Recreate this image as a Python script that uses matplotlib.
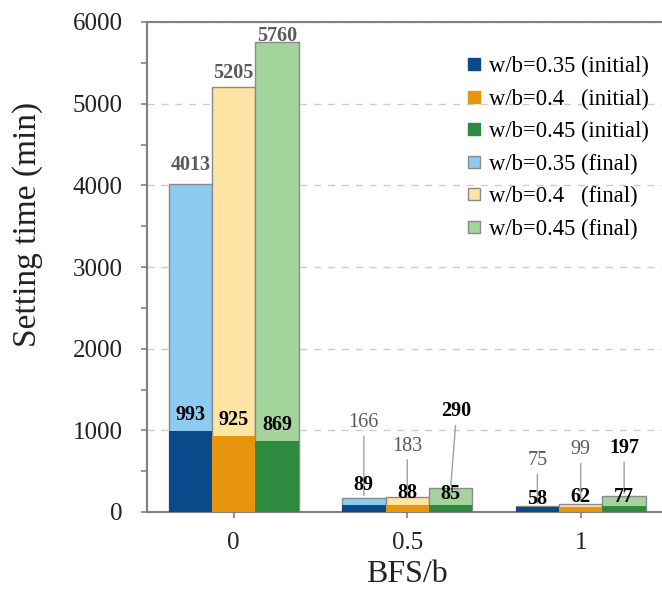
import matplotlib
matplotlib.use("Agg")
import matplotlib.pyplot as plt
from matplotlib.lines import Line2D
from matplotlib.ticker import MultipleLocator
import numpy as np

# ---------------- Data ----------------
bfs_labels = ["0", "0.5", "1"]
series_wb = ["0.35", "0.4", "0.45"]
initial_time = [[993, 89, 58],     # w/b=0.35
                [925, 88, 62],     # w/b=0.4
                [869, 85, 77]]     # w/b=0.45
final_time = [[4013, 166, 75],
              [5205, 183, 99],
              [5760, 290, 197]]

# ---------------- Style ----------------
plt.rcParams['font.family'] = ['Liberation Serif', 'DejaVu Serif']
init_colors = ["#0b4a8a", "#e8940c", "#2e8a3e"]
final_colors = ["#8ecbf0", "#fee4a3", "#a2d49c"]
edge_gray = "#8a8a8a"
axis_gray = "#808080"
label_gray = "#5a5a5a"
text_dark = "#222222"

# label centre offsets in pixels (dx, dy) from the top of each bar
# rows = series (w/b), columns = BFS/b groups
init_off = [[(0, 16), (0, 20), (0, 8)],
            [(0, 16), (0, 12), (0, 10)],
            [(0, 16), (0, 11), (0, 9)]]
final_off = [[(0, 19), (0, 76), (0, 45)],
             [(0, 14), (0, 51), (0, 54)],
             [(0, 6), (6, 77), (0, 48)]]
# 'k' = bold black, 'g' = bold grey, 'n' = normal grey
final_style = [['g', 'n', 'n'],
               ['g', 'n', 'n'],
               ['g', 'k', 'k']]
lbl_size = 14.5

fig = plt.figure(figsize=(6.62, 5.94), dpi=100)
ax = fig.add_axes([147 / 662, 82 / 594, 520.5 / 662, 490 / 594])

x = np.arange(len(bfs_labels))
width = 0.25

for i, wb in enumerate(series_wb):
    xs = x + (i - 1) * width
    ax.bar(xs, final_time[i], width, color=final_colors[i],
           edgecolor=edge_gray, linewidth=1, zorder=2)
    ax.bar(xs, initial_time[i], width, color=init_colors[i],
           linewidth=0, zorder=3)

    for j in range(len(bfs_labels)):
        # final values, with leader lines for the small groups
        dx, dy = final_off[i][j]
        st = final_style[i][j]
        lead = dict(arrowstyle='-', color='#a0a0a0', lw=1,
                    shrinkA=1, shrinkB=2) if j > 0 else None
        ax.annotate(str(final_time[i][j]), xy=(xs[j], final_time[i][j]),
                    xytext=(dx, dy), textcoords='offset pixels',
                    ha='center', va='center', fontsize=lbl_size,
                    color='black' if st == 'k' else label_gray,
                    fontweight='normal' if st == 'n' else 'bold',
                    zorder=5, arrowprops=lead)
        # initial values
        dx, dy = init_off[i][j]
        ax.annotate(str(initial_time[i][j]), xy=(xs[j], initial_time[i][j]),
                    xytext=(dx, dy), textcoords='offset pixels',
                    ha='center', va='center', fontsize=lbl_size,
                    fontweight='bold', color='black', zorder=6)

# ---------------- Axes ----------------
ax.set_xlim(-0.5, 2.5)
ax.set_ylim(0, 6000)
ax.set_xticks(x)
ax.set_xticklabels(bfs_labels)
ax.yaxis.set_major_locator(MultipleLocator(1000))
ax.yaxis.set_minor_locator(MultipleLocator(500))
ax.tick_params(axis='both', which='both', direction='out', length=4.5,
               color=axis_gray, width=1.2, labelsize=18, labelcolor=text_dark)
ax.tick_params(axis='y', which='major', pad=13)
ax.tick_params(axis='x', pad=10)
ax.grid(axis='y', which='major', linestyle=(0, (5, 5)), color='#cccccc',
        linewidth=1, zorder=0)
ax.set_axisbelow(True)
for side in ['left', 'bottom', 'top']:
    ax.spines[side].set_color(axis_gray)
    ax.spines[side].set_linewidth(1.5)
ax.spines['right'].set_visible(False)

fig.text(28 / 662, 1 - 224 / 594, "Setting time (min)", rotation=90,
         ha='center', va='center', fontsize=24, color=text_dark)
ax.set_xlabel("BFS/b", fontsize=23, color=text_dark, labelpad=4)

# ---------------- Legend ----------------
handles = []
labels = []
pads = {"0.35": " ", "0.4": "   ", "0.45": " "}
for i, wb in enumerate(series_wb):
    handles.append(Line2D([], [], marker='s', linestyle='none', markersize=8,
                          markerfacecolor=init_colors[i], markeredgecolor=init_colors[i]))
    labels.append(f"w/b={wb}{pads[wb]}(initial)")
for i, wb in enumerate(series_wb):
    handles.append(Line2D([], [], marker='s', linestyle='none', markersize=8,
                          markerfacecolor=final_colors[i], markeredgecolor=edge_gray))
    labels.append(f"w/b={wb}{pads[wb]}(final)")
ax.legend(handles, labels, loc='upper left',
          bbox_to_anchor=(466 / 662, 1 - 56 / 594),
          bbox_transform=fig.transFigure, frameon=False, fontsize=16.3,
          handlelength=0.7, handletextpad=0.3, labelspacing=0.5,
          borderpad=0, borderaxespad=0)

fig.savefig("out.png", dpi=100)
